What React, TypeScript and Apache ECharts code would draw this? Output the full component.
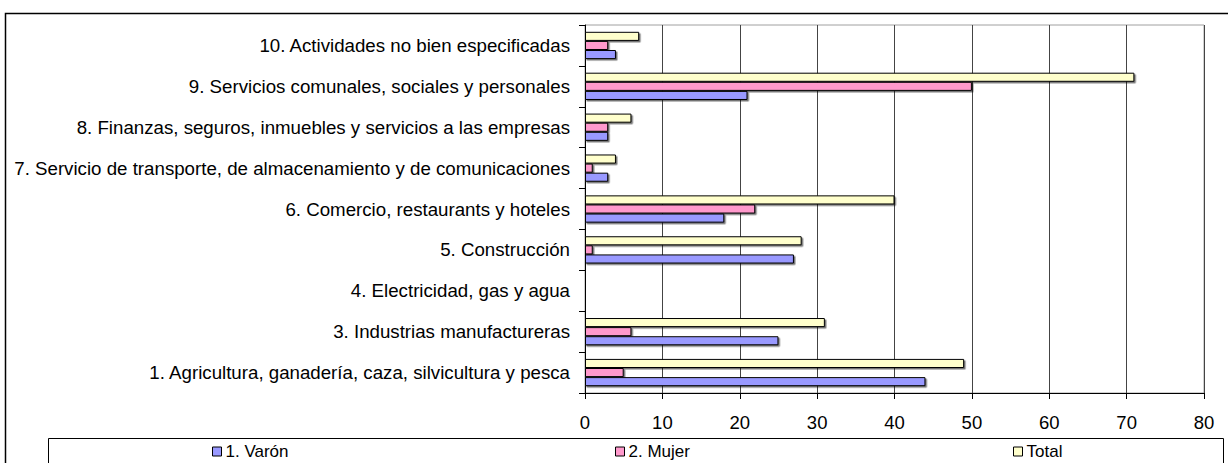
import React, { useEffect, useRef } from "react";
import * as echarts from "echarts";

const categories = [
  "1. Agricultura, ganadería, caza, silvicultura y pesca",
  "3. Industrias manufactureras",
  "4. Electricidad, gas y agua",
  "5. Construcción",
  "6. Comercio, restaurants y hoteles",
  "7. Servicio de transporte, de almacenamiento y de comunicaciones",
  "8. Finanzas, seguros, inmuebles y servicios a las empresas",
  "9. Servicios comunales, sociales y personales",
  "10. Actividades no bien especificadas",
];
const varon = [44, 25, 0, 27, 18, 3, 3, 21, 4];
const mujer = [5, 6, 0, 1, 22, 1, 3, 50, 3];
const total = [49, 31, 0, 28, 40, 4, 6, 71, 7];
const seriesNames = ["1. Varón", "2. Mujer", "Total"];
const seriesColors = ["#9999FF", "#FF99CC", "#FFFFCC"];
const xTicks = { min: 0, max: 80, interval: 10 };

const FONT = "'Liberation Sans', Arial, sans-serif";

export default function App() {
  const ref = useRef<HTMLDivElement>(null);
  useEffect(() => {
    if (!ref.current) return;
    const chart = echarts.init(ref.current, null, { renderer: "svg" });
    const dataSets = [varon, mujer, total];
    const legendLefts = [212, 615, 1013];
    // ECharts stacks horizontal bar series top-to-bottom; reverse so Varón sits at the bottom
    const order = [2, 1, 0];
    chart.setOption({
      animation: false,
      backgroundColor: "#ffffff",
      textStyle: { fontFamily: FONT },
      grid: {
        left: 585,
        right: 24,
        top: 25,
        bottom: 70,
        show: true,
        borderColor: "#a0a0a0",
        borderWidth: 1,
      },
      xAxis: {
        type: "value",
        min: xTicks.min,
        max: xTicks.max,
        interval: xTicks.interval,
        axisLine: { show: true, lineStyle: { color: "#000", width: 1 } },
        axisTick: { show: true, inside: false, length: 6, lineStyle: { color: "#000" } },
        axisLabel: { color: "#000", fontSize: 18.5, fontFamily: FONT, margin: 20 },
        splitLine: { show: true, lineStyle: { color: "#444", width: 1 } },
      },
      yAxis: {
        type: "category",
        data: categories,
        axisLine: { show: true, lineStyle: { color: "#000", width: 1 } },
        axisTick: { show: true, inside: false, length: 6, lineStyle: { color: "#000" } },
        axisLabel: { color: "#000", fontSize: 18.7, fontFamily: FONT, margin: 15 },
        splitLine: { show: false },
      },
      legend: legendLefts.map((l, i) => ({
        data: [seriesNames[i]],
        left: l,
        top: 443,
        padding: 0,
        itemWidth: 9,
        itemHeight: 9,
        itemGap: 4,
        icon: "rect",
        textStyle: { fontSize: 17, color: "#000", fontFamily: FONT, padding: [0, 0, 0, -1] },
        itemStyle: { borderColor: "#000", borderWidth: 1, shadowColor: "transparent", shadowBlur: 0, shadowOffsetX: 0, shadowOffsetY: 0 },
        selectedMode: false,
      })),
      graphic: [
        {
          type: "rect",
          shape: { x: 5.5, y: 13.5, width: 1300, height: 500 },
          style: { fill: "none", stroke: "#000", lineWidth: 1.5 },
          silent: true,
        },
        {
          type: "rect",
          shape: { x: 48.5, y: 438.5, width: 1175, height: 60 },
          style: { fill: "none", stroke: "#000", lineWidth: 1 },
          silent: true,
        },
      ],
      series: order.map((i) => ({
        name: seriesNames[i],
        type: "bar",
        data: dataSets[i],
        barGap: "0%",
        barCategoryGap: "33.3%",
        itemStyle: {
          color: seriesColors[i],
          borderColor: "#000",
          borderWidth: 1,
          shadowColor: "rgba(0,0,0,0.55)",
          shadowBlur: 0,
          shadowOffsetX: 1.5,
          shadowOffsetY: 1.5,
        },
      })),
    });
    return () => chart.dispose();
  }, []);
  return (
    <div
      ref={ref}
      style={{ position: "absolute", left: 0, top: 0, width: 1228, height: 463 }}
    />
  );
}
